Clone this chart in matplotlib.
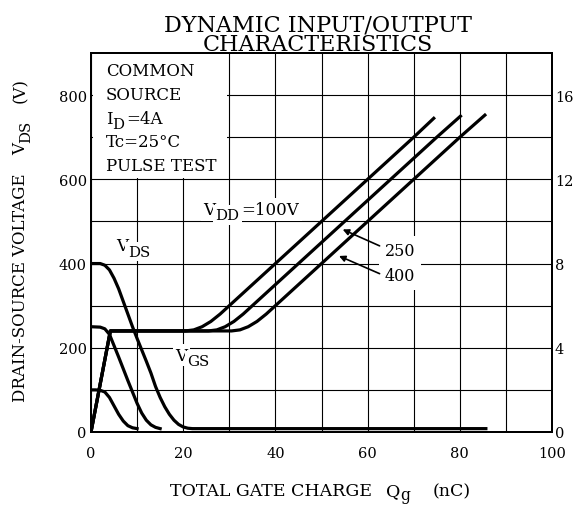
import matplotlib
matplotlib.use("Agg")
import matplotlib.pyplot as plt
from matplotlib.patches import Rectangle

plt.rcParams['font.family'] = ['DejaVu Serif']
plt.rcParams['mathtext.fontset'] = 'dejavuserif'

# ---------------- data ----------------
# Drain-source voltage curves (left axis, V) vs total gate charge (nC)
qg_vds400 = [0, 2, 3, 4, 5, 6, 7, 8, 9, 10, 11, 12, 13, 14, 15, 16, 17, 18, 19, 20, 21, 22, 86]
vds400 = [400, 400, 396, 385, 365, 340, 310, 280, 250, 222, 195, 168, 140, 108, 82, 60, 42, 28, 18, 12, 9, 8, 8]

qg_vds250 = [0, 2, 3, 4, 5, 6, 7, 8, 9, 10, 11, 12, 13, 14, 15]
vds250 = [250, 249, 245, 232, 205, 178, 150, 122, 95, 68, 45, 28, 17, 11, 8]

qg_vds100 = [0, 1, 2, 3, 4, 5, 6, 7, 8, 9, 10]
vds100 = [100, 100, 99, 95, 82, 62, 42, 26, 15, 10, 8]

# Gate-source voltage curves (right axis, V)
qg_vgs100 = [0, 4.2, 20.5, 22.3, 24.1, 26.0, 28.0, 30, 40, 50, 60, 70, 74.6]
vgs100 = [0, 4.8, 4.8, 4.85, 5.0, 5.25, 5.6, 6.0, 8.0, 10.0, 12.0, 14.0, 14.95]

qg_vgs250 = [0, 4.2, 25.5, 27.3, 29.1, 31.0, 33.0, 35, 45, 55, 65, 75, 80.4]
vgs250 = [0, 4.8, 4.8, 4.85, 5.0, 5.25, 5.6, 6.0, 8.0, 10.0, 12.0, 14.0, 15.05]

qg_vgs400 = [0, 4.2, 30.5, 32.3, 34.1, 36.0, 38.0, 40, 50, 60, 70, 80, 85.7]
vgs400 = [0, 4.8, 4.8, 4.85, 5.0, 5.25, 5.6, 6.0, 8.0, 10.0, 12.0, 14.0, 15.1]

x_ticks = [0, 20, 40, 60, 80, 100]
vds_ticks = [0, 200, 400, 600, 800]
vgs_ticks = [0, 4, 8, 12, 16]

title_lines = ["DYNAMIC INPUT/OUTPUT", "CHARACTERISTICS"]
vdd_labels = ["250", "400"]

# ---------------- helpers ----------------
SUB = 0.9      # subscript size relative to main text
DROP = 3.2     # subscript drop in points


def chain_text(ax, x, y, parts, size, transform, rotation=0, bbox=None):
    """Draw text pieces one after another; parts = list of (string, is_sub, gap_pt)."""
    s0, _, _ = parts[0]
    if rotation == 0:
        prev = ax.text(x, y, s0, fontsize=size, transform=transform, ha='left',
                       va='baseline', bbox=bbox, zorder=4, clip_on=False)
    else:
        prev = ax.text(x, y, s0, fontsize=size, transform=transform, ha='right',
                       va='bottom', rotation=90, bbox=bbox, zorder=4, clip_on=False)
    prev_sub = False
    for s, is_sub, gap in parts[1:]:
        d = 0.0
        if is_sub and not prev_sub:
            d = -DROP
        elif prev_sub and not is_sub:
            d = DROP
        fs = size * SUB if is_sub else size
        if rotation == 0:
            prev = ax.annotate(s, xy=(1, 0), xycoords=prev, xytext=(gap, d),
                               textcoords='offset points', fontsize=fs, ha='left',
                               va='bottom', bbox=bbox, zorder=4, annotation_clip=False)
        else:
            prev = ax.annotate(s, xy=(1, 1), xycoords=prev, xytext=(-d, gap),
                               textcoords='offset points', fontsize=fs, ha='right',
                               va='bottom', rotation=90, bbox=bbox, zorder=4,
                               annotation_clip=False)
        prev_sub = is_sub
    return prev


# ---------------- figure ----------------
W, H = 576, 506
fig = plt.figure(figsize=(W / 100, H / 100), dpi=100)
ax = fig.add_axes([91 / W, 1 - 433 / H, (552 - 91) / W, (433 - 54) / H])
ax.set_xlim(0, 100)
ax.set_ylim(0, 900)
ax.set_xticks(x_ticks)
ax.set_xticks([10, 30, 50, 70, 90], minor=True)
ax.set_yticks(vds_ticks)
ax.set_yticks([100, 300, 500, 700], minor=True)
ax.set_axisbelow(True)
ax.grid(which='both', color='black', lw=0.8)
ax.tick_params(which='both', length=0, labelsize=10.5)
ax.tick_params(axis='x', pad=10)
ax.tick_params(axis='y', pad=3)
for s in ax.spines.values():
    s.set_linewidth(1.4)

# white panel behind the condition text
ax.add_patch(Rectangle((0.4, 604), 29.2, 296, facecolor='white', edgecolor='none', zorder=1))

lw = 2.3
ax.plot(qg_vds400, vds400, color='black', lw=lw, zorder=3, solid_capstyle='butt')
ax.plot(qg_vds250, vds250, color='black', lw=lw, zorder=3)
ax.plot(qg_vds100, vds100, color='black', lw=lw, zorder=3)

ax2 = ax.twinx()
ax2.set_ylim(0, 18)
ax2.set_yticks(vgs_ticks)
ax2.tick_params(length=0, labelsize=10.5, pad=2)
for s in ax2.spines.values():
    s.set_linewidth(1.4)
ax2.plot(qg_vgs100, vgs100, color='black', lw=lw, solid_capstyle='butt')
ax2.plot(qg_vgs250, vgs250, color='black', lw=lw, solid_capstyle='butt')
ax2.plot(qg_vgs400, vgs400, color='black', lw=lw, solid_capstyle='butt')

# condition text (baselines)
td = ax.transData
ax.text(3.2, 847, "COMMON", fontsize=12, ha='left', va='baseline', zorder=4)
ax.text(3.2, 791, "SOURCE", fontsize=12, ha='left', va='baseline', zorder=4)
chain_text(ax, 3.2, 734, [("I", False, 0), ("D", True, 0), ("=4A", False, 1.5)], 12, td)
ax.text(3.2, 679, "Tc=25°C", fontsize=12, ha='left', va='baseline', zorder=4)
ax.text(3.2, 623, "PULSE TEST", fontsize=12, ha='left', va='baseline', zorder=4)

wbox = dict(facecolor='white', edgecolor='none', pad=2)
chain_text(ax, 24.4, 518, [("V", False, 0), ("DD", True, 0), ("=100V", False, 1.5)], 12, td, bbox=wbox)
chain_text(ax, 5.4, 432, [("V", False, 0), ("DS", True, 0)], 12, td, bbox=wbox)
chain_text(ax, 18.3, 172, [("V", False, 0), ("GS", True, 0)], 12, td, bbox=wbox)

lbl_box = dict(facecolor='white', edgecolor='none', pad=4)
ax.text(67.0, 431, vdd_labels[0], fontsize=11.5, ha='center', va='center', bbox=lbl_box, zorder=4)
ax.text(67.0, 371, vdd_labels[1], fontsize=11.5, ha='center', va='center', bbox=lbl_box, zorder=4)
arrow = dict(arrowstyle='-|>', color='black', lw=1.2, mutation_scale=9, shrinkA=0, shrinkB=0)
ax.annotate('', xy=(54.6, 481), xytext=(62.6, 442), arrowprops=arrow, zorder=5)
ax.annotate('', xy=(53.8, 418), xytext=(62.6, 376), arrowprops=arrow, zorder=5)

# titles and axis labels
fig.text(318 / W, 1 - 31 / H, title_lines[0], fontsize=16, ha='center', va='baseline')
fig.text(318 / W, 1 - 51 / H, title_lines[1], fontsize=16, ha='center', va='baseline')

tf = fig.transFigure
chain_text(ax, 170 / W, 1 - 496 / H,
           [("TOTAL GATE CHARGE", False, 0), ("Q", False, 10), ("g", True, 0), ("(nC)", False, 16)],
           12.5, tf)
chain_text(ax, 29 / W, 1 - 402 / H,
           [("DRAIN-SOURCE VOLTAGE", False, 0), ("V", False, 13), ("DS", True, 0), ("(V)", False, 13)],
           12, tf, rotation=90)

fig.savefig("out.png", dpi=100)
